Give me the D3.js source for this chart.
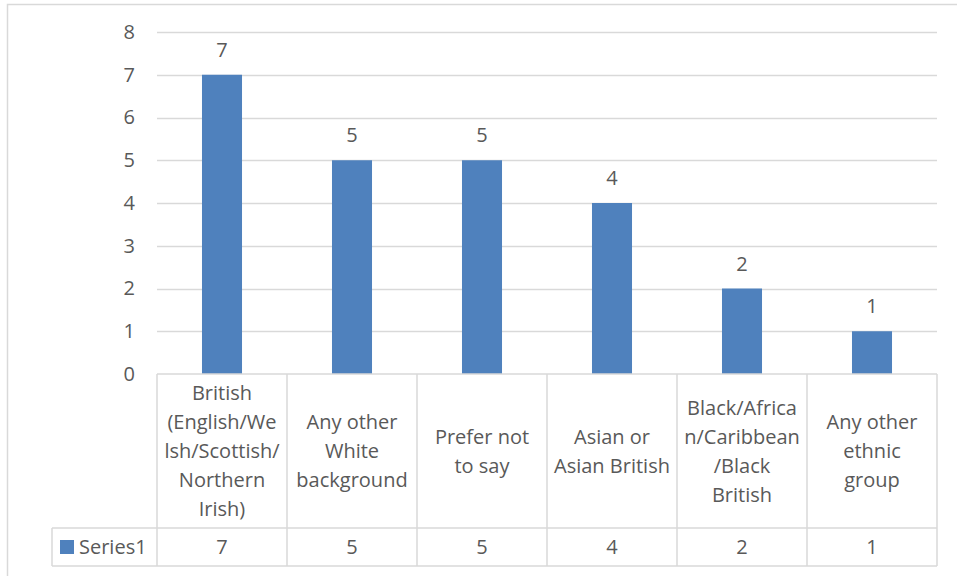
<!DOCTYPE html>
<html>
<head>
<meta charset="utf-8">
<script src="https://cdn.jsdelivr.net/npm/d3@7"></script>
<style>
  html, body { margin: 0; padding: 0; background: #fff; }
  svg { display: block; }
  text { font-family: "Open Sans", "Noto Sans", sans-serif; fill: #595959; }
</style>
</head>
<body>
<svg id="chart" width="957" height="576"></svg>
<script>
// Ethnicity breakdown, single series with a data table underneath
const categories = [
  "British (English/Welsh/Scottish/Northern Irish)",
  "Any other White background",
  "Prefer not to say",
  "Asian or Asian British",
  "Black/African/Caribbean/Black British",
  "Any other ethnic group"
];
// wrapped lines for the table header cells
const categoryLines = [
  ["British", "(English/We", "lsh/Scottish/", "Northern", "Irish)"],
  ["Any other", "White", "background"],
  ["Prefer not", "to say"],
  ["Asian or", "Asian British"],
  ["Black/Africa", "n/Caribbean", "/Black", "British"],
  ["Any other", "ethnic", "group"]
];
const seriesName = "Series1";
const values = [7, 5, 5, 4, 2, 1];
const yTicks = [0, 1, 2, 3, 4, 5, 6, 7, 8];

const svg = d3.select("#chart");
const gridColor = "#d9d9d9";
const barColor = "#4f81bd";
const fontSize = 20;

const plotLeft = 157, plotRight = 937, plotTop = 32, plotBottom = 374;
const headerBottom = 528, tableBottom = 566, legendLeft = 52;

// outer chart frame
svg.append("rect")
  .attr("x", 7.5).attr("y", 4.5)
  .attr("width", 980).attr("height", 600)
  .attr("fill", "none").attr("stroke", gridColor).attr("stroke-width", 1.5);

const x = d3.scaleBand().domain(d3.range(categories.length)).range([plotLeft, plotRight]);
const y = d3.scaleLinear().domain([0, 8]).range([plotBottom, plotTop]);

// horizontal gridlines
svg.append("g").selectAll("line")
  .data(yTicks.filter(d => d > 0))
  .join("line")
  .attr("x1", plotLeft).attr("x2", plotRight)
  .attr("y1", d => Math.round(y(d)) + 0.5).attr("y2", d => Math.round(y(d)) + 0.5)
  .attr("stroke", gridColor).attr("stroke-width", 1.5);

// value axis labels
const yAxis = d3.axisLeft(y).tickValues(yTicks).tickSize(0).tickPadding(0).tickFormat(d3.format("d"));
const yAxisG = svg.append("g").attr("transform", `translate(135,0)`).call(yAxis);
yAxisG.select(".domain").remove();
yAxisG.selectAll("text")
  .attr("font-size", fontSize)
  .style("font-family", "\"Open Sans\", sans-serif")
  .attr("fill", "#595959");

// bars
const barW = x.bandwidth() * 0.308;
svg.append("g").selectAll("rect")
  .data(values)
  .join("rect")
  .attr("x", (d, i) => x(i) + (x.bandwidth() - barW) / 2)
  .attr("y", d => y(d))
  .attr("width", barW)
  .attr("height", d => y(0) - y(d))
  .attr("fill", barColor);

// data labels above bars
svg.append("g").selectAll("text")
  .data(values)
  .join("text")
  .attr("x", (d, i) => x(i) + x.bandwidth() / 2)
  .attr("y", d => y(d) - 18)
  .attr("text-anchor", "middle")
  .attr("font-size", fontSize)
  .text(d => d);

// data table grid
const table = svg.append("g").attr("stroke", gridColor).attr("stroke-width", 1.5).attr("fill", "none");
table.append("line").attr("x1", plotLeft).attr("x2", plotRight).attr("y1", plotBottom).attr("y2", plotBottom);
table.append("line").attr("x1", legendLeft).attr("x2", plotRight).attr("y1", headerBottom).attr("y2", headerBottom);
table.append("line").attr("x1", legendLeft).attr("x2", plotRight).attr("y1", tableBottom).attr("y2", tableBottom);
table.append("line").attr("x1", legendLeft).attr("x2", legendLeft).attr("y1", headerBottom).attr("y2", tableBottom);
table.selectAll("line.col")
  .data(d3.range(categories.length + 1))
  .join("line")
  .attr("class", "col")
  .attr("x1", i => i < categories.length ? x(i) : plotRight)
  .attr("x2", i => i < categories.length ? x(i) : plotRight)
  .attr("y1", plotBottom).attr("y2", tableBottom);

// category header text
const lineH = 29;
const headerMid = (plotBottom + headerBottom) / 2;
svg.append("g").selectAll("text")
  .data(categoryLines)
  .join("text")
  .attr("text-anchor", "middle")
  .attr("font-size", fontSize)
  .each(function (lines, i) {
    const t = d3.select(this);
    const y0 = headerMid - (lines.length - 1) * lineH / 2;
    lines.forEach((ln, k) => {
      t.append("tspan")
        .attr("x", x(i) + x.bandwidth() / 2)
        .attr("y", y0 + k * lineH)
        .attr("dy", "0.35em")
        .text(ln);
    });
  });

// series row: legend key, name, values
const rowMid = (headerBottom + tableBottom) / 2;
svg.append("rect")
  .attr("x", 60).attr("y", rowMid - 7)
  .attr("width", 14).attr("height", 14)
  .attr("fill", barColor);
svg.append("text")
  .attr("x", 79).attr("y", rowMid).attr("dy", "0.35em")
  .attr("font-size", fontSize)
  .text(seriesName);
svg.append("g").selectAll("text")
  .data(values)
  .join("text")
  .attr("x", (d, i) => x(i) + x.bandwidth() / 2)
  .attr("y", rowMid).attr("dy", "0.35em")
  .attr("text-anchor", "middle")
  .attr("font-size", fontSize)
  .text(d => d);
</script>
</body>
</html>
